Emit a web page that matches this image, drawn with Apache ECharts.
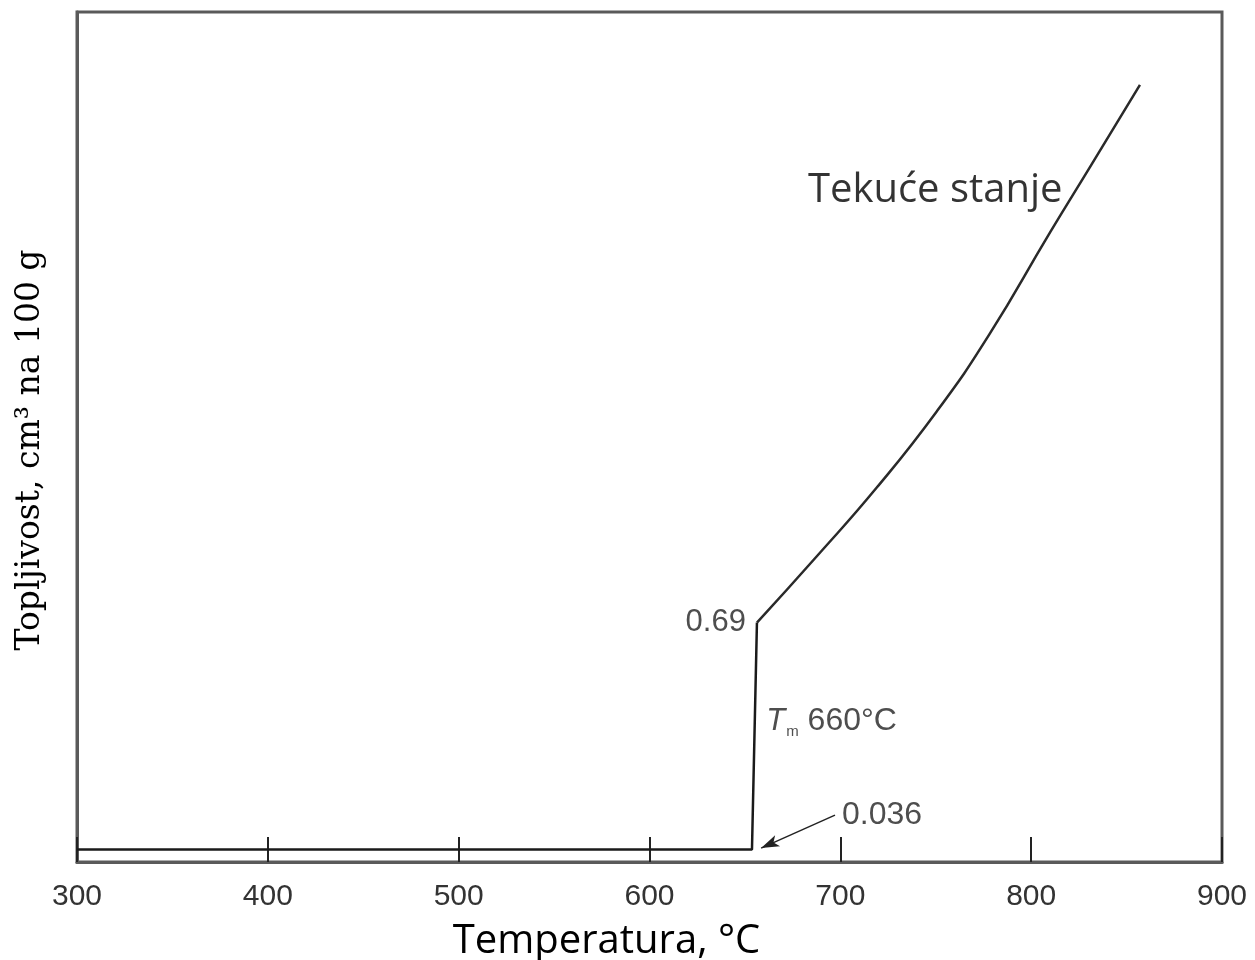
<!DOCTYPE html>
<html>
<head>
<meta charset="utf-8">
<script src="https://cdn.jsdelivr.net/npm/echarts@6/dist/echarts.min.js"></script>
<style>html,body{margin:0;padding:0;background:#fff}#c{width:1255px;height:960px}</style>
</head>
<body>
<div id="c"></div>
<script>
// Data (temperature °C, solubility cm3 per 100 g)
const solidT = [300, 653.7];
const solidS = [0.036, 0.036];
const liquidT = [656.3, 687.8, 719.2, 750.7, 778.0, 809.9, 830.8, 857.0];
const liquidS = [0.69, 0.882, 1.080, 1.300, 1.520, 1.815, 2.003, 2.240];
const xTicks = [300, 400, 500, 600, 700, 800, 900];
const xName = 'Temperatura, °C';
const yName = 'Topljivost, cm³ na 100 g';
const curveLabel = 'Tekuće stanje';
const meltLabel = '660°C';
const solidLabel = '0.036';
const liquidLabel = '0.69';

const chart = echarts.init(document.getElementById('c'));
const solidLine = solidT.map((t, i) => [t, solidS[i]]).concat([[liquidT[0], liquidS[0]]]);
const liquidLine = liquidT.map((t, i) => [t, liquidS[i]]);
const sans = 'Liberation Sans';

chart.setOption({
  animation: false,
  backgroundColor: '#fff',
  grid: { left: 77, right: 33, top: 12, bottom: 98, outerBoundsMode: 'none', containLabel: false,
          show: true, borderColor: '#5a5a5a', borderWidth: 3, backgroundColor: 'transparent' },
  xAxis: {
    type: 'value', min: xTicks[0], max: xTicks[xTicks.length - 1], interval: 100,
    name: xName, nameLocation: 'middle', nameGap: 60,
    nameTextStyle: { fontFamily: 'Open Sans', fontSize: 40, color: '#000', padding: [0, 86, 0, 0] },
    axisLine: { show: true, lineStyle: { color: '#5a5a5a', width: 3 } },
    axisTick: { show: true, inside: true, length: 25, lineStyle: { color: '#222', width: 2 } },
    axisLabel: { fontFamily: sans, fontSize: 30, color: '#333', margin: 20 },
    splitLine: { show: false }
  },
  yAxis: {
    type: 'value', min: 0, max: 2.45,
    name: yName, nameLocation: 'middle', nameGap: 30,
    nameTextStyle: { fontFamily: 'DejaVu Serif', fontSize: 33, color: '#000', padding: [0, 26, 0, 0] },
    axisLine: { show: true, lineStyle: { color: '#5a5a5a', width: 3 } },
    axisTick: { show: false }, axisLabel: { show: false }, splitLine: { show: false }
  },
  series: [
    {
      type: 'line', data: solidLine, symbol: 'none', smooth: false,
      lineStyle: { color: '#1a1a1a', width: 2.5 },
      markLine: {
        silent: true, symbol: ['none', 'arrow'], symbolSize: [9, 18],
        lineStyle: { color: '#222', width: 1.5, type: 'solid' },
        label: { show: false },
        data: [[{ coord: [697.2, 0.135] }, { coord: [658.5, 0.04] }]]
      }
    },
    {
      type: 'line', data: liquidLine, symbol: 'none', smooth: 0.5,
      lineStyle: { color: '#2a2a2a', width: 2.5 }
    },
    {
      type: 'scatter', symbolSize: 0, silent: true,
      data: [
        { value: [656.3, 0.69], label: { show: true, position: 'left', distance: 11, formatter: liquidLabel, fontFamily: sans, fontSize: 31, color: '#222' } },
        { value: [697.2, 0.135], label: { show: true, position: 'right', distance: 7, formatter: solidLabel, fontFamily: sans, fontSize: 32, color: '#222' } },
        { value: [657, 0.405], label: { show: true, position: 'right', distance: 8, formatter: '{t|T}{m|m} ' + meltLabel,
            rich: {
              t: { fontFamily: sans, fontStyle: 'italic', fontSize: 31, color: '#222' },
              m: { fontFamily: sans, fontSize: 15, color: '#222', verticalAlign: 'bottom', padding: [20, 0, 0, 1] }
            },
            fontFamily: sans, fontSize: 32, color: '#222' } },
        { value: [683, 1.935], label: { show: true, position: 'right', distance: 0, formatter: curveLabel, fontFamily: 'Open Sans', fontSize: 40, color: '#000' } }
      ]
    }
  ]
});
</script>
</body>
</html>
